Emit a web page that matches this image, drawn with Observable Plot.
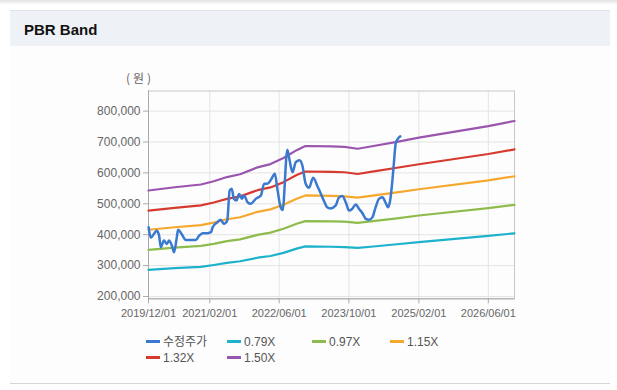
<!DOCTYPE html>
<html><head><meta charset="utf-8">
<script src="https://cdn.jsdelivr.net/npm/d3@7"></script>
<script src="https://cdn.jsdelivr.net/npm/@observablehq/plot@0.6"></script>
<style>
body{margin:0;width:617px;height:390px;background:#fff;position:relative;overflow:hidden;font-family:"Liberation Sans",Arial,"Noto Sans CJK KR",sans-serif;}
#shadow{position:absolute;left:0;top:0;width:617px;height:5px;background:linear-gradient(#e2e2e2,#ffffff);}
#panel{position:absolute;left:10px;top:10px;width:600px;height:373px;background:#fdfdfd;border-bottom:1px solid #d6d6d6;}
#header{position:absolute;left:10px;top:10px;width:600px;height:35px;background:#eef1f6;border-top:1px solid #dde2ea;}
#title{position:absolute;left:24px;top:21px;font-weight:bold;font-size:15px;color:#111;}
#unit{position:absolute;left:126px;top:69px;font-size:12px;color:#666;letter-spacing:3px;font-family:"Noto Sans CJK KR","Liberation Sans",sans-serif;}
#chart{position:absolute;left:0;top:60px;}
.leg{position:absolute;font-size:12px;color:#555;line-height:14px;white-space:nowrap;font-family:"Liberation Sans","Noto Sans CJK KR",sans-serif;}
.leg i{display:inline-block;width:14px;height:3px;margin-right:3px;vertical-align:middle;position:relative;top:-1px;}
</style></head><body>
<div id="shadow"></div>
<div id="panel"></div>
<div id="header"></div>
<div id="title">PBR Band</div>
<div id="unit">(원)</div>
<div id="chart"></div>
<div id="legend"></div>
<script>
// ---- data ----
const seriesNames = ["수정주가", "0.79X", "0.97X", "1.15X", "1.32X", "1.50X"];
const seriesColors = ["#3a79d0", "#1db2cc", "#8dbb4c", "#f6a82e", "#d63a2e", "#9a55ae"];

const priceDates = ["2019-12-02","2019-12-17","2020-01-09","2020-01-28","2020-02-13","2020-02-25","2020-03-18","2020-04-07","2020-04-23","2020-05-16","2020-05-27","2020-06-16","2020-06-25","2020-07-18","2020-08-18","2020-10-27","2020-11-19","2020-12-13","2021-01-17","2021-02-10","2021-02-21","2021-03-26","2021-04-18","2021-05-11","2021-06-03","2021-06-20","2021-07-04","2021-07-20","2021-08-07","2021-08-25","2021-09-13","2021-09-29","2021-10-23","2021-11-15","2021-12-19","2022-01-24","2022-02-16","2022-03-10","2022-04-02","2022-05-02","2022-05-19","2022-06-11","2022-06-25","2022-07-28","2022-08-13","2022-09-02","2022-09-25","2022-10-22","2022-11-10","2022-12-03","2022-12-26","2023-01-25","2023-02-24","2023-03-17","2023-04-09","2023-05-02","2023-05-25","2023-07-01","2023-07-23","2023-08-16","2023-09-09","2023-10-02","2023-10-25","2023-11-18","2023-12-10","2024-01-03","2024-01-27","2024-02-18","2024-03-13","2024-04-05","2024-04-28","2024-05-22","2024-06-14","2024-06-30","2024-07-15","2024-07-31","2024-08-11","2024-08-23","2024-09-08","2024-09-24"];
const priceValues = [424000,390000,403000,413000,397000,359000,381000,370000,381000,359000,343000,392000,416000,403000,383000,383000,397000,405000,405000,408000,424000,440000,448000,435000,445000,543000,549000,516000,511000,532000,516000,527000,505000,500000,516000,527000,565000,565000,576000,597000,549000,489000,480000,675000,640000,602000,635000,641000,624000,565000,552000,584000,556000,535000,510000,489000,485000,495000,520000,525000,505000,478000,484000,498000,484000,470000,451000,448000,456000,489000,516000,521000,503000,489000,510000,576000,635000,695000,711000,718000];

const bandDates = ["2019-12-01","2020-06-01","2020-12-01","2021-03-01","2021-06-01","2021-09-01","2022-01-01","2022-04-01","2022-07-01","2022-10-01","2022-12-01","2023-06-01","2023-09-01","2023-12-01","2024-03-01","2024-09-01","2025-02-01","2026-06-01","2026-12-01"];
const band079 = [286000,291500,296000,302000,309000,314000,325500,331000,341000,355000,362000,361000,360000,357000,361000,369000,376000,396000,404500];
const band097 = [351000,358000,364000,370500,379000,385000,399500,406500,419000,435500,444000,443000,442000,438500,443000,453000,462000,486000,496500];
const band115 = [416000,424000,431000,439000,450000,456500,474000,482000,497000,516000,527000,525500,524000,520000,525500,537000,547000,576000,589000];
const band132 = [478000,487000,495000,504000,516000,524000,544000,553000,570000,593000,604500,603000,602000,596500,603000,616500,628000,661000,676000];
const band150 = [543000,553500,562500,573000,586500,595500,618000,628500,648000,673500,687000,685500,684000,678000,685500,700500,714000,751500,768000];

const xTickLabels = ["2019-12-01","2021-02-01","2022-06-01","2023-10-01","2025-02-01","2026-06-01"];
const yTicks = [200000,300000,400000,500000,600000,700000,800000];
const xDomain = ["2019-12-01","2026-12-01"];
const yDomain = [192500, 865000];

// ---- build ----
const pd = s => new Date(s + "T00:00:00Z");
const priceData = priceDates.map((d,i) => ({date: pd(d), value: priceValues[i]}));
const bands = [band079, band097, band115, band132, band150];
const bandData = bands.map(arr => bandDates.map((d,i) => ({date: pd(d), value: arr[i]})));
const xTicks = xTickLabels.map(pd);
const font = '"Liberation Sans", Arial, sans-serif';

const marks = [
  Plot.gridX(xTicks, {stroke: "#e4e4e4", strokeOpacity: 1}),
  Plot.gridY(yTicks, {stroke: "#e4e4e4", strokeOpacity: 1}),
  Plot.frame({stroke: "#c8c8c8"}),
  Plot.ruleX([pd(xDomain[0])], {stroke: "#a8a8a8"}),
  Plot.ruleY([yDomain[0]], {stroke: "#a8a8a8"}),
  Plot.axisX(xTicks, {tickFormat: d3.utcFormat("%Y/%m/%d"), tickSize: 5, tickPadding: 5, fontSize: 11, stroke: "#aaa", fill: "#666", label: null}),
  Plot.axisY(yTicks, {tickFormat: d3.format(","), tickSize: 5, tickPadding: 3, fontSize: 12, stroke: "#aaa", fill: "#666", label: null})
];
bandData.forEach((data, i) => {
  marks.push(Plot.line(data, {x: "date", y: "value", stroke: seriesColors[i+1], strokeWidth: 2.2}));
});
marks.push(Plot.line(priceData, {x: "date", y: "value", stroke: seriesColors[0], strokeWidth: 2.5, curve: "monotone-x"}));

const chart = Plot.plot({
  width: 617, height: 260,
  marginLeft: 148, marginRight: 103, marginTop: 30.5, marginBottom: 21.7,
  style: {background: "transparent", fontFamily: font, color: "#666", overflow: "visible"},
  x: {type: "utc", domain: xDomain.map(pd)},
  y: {domain: yDomain},
  marks
});
document.getElementById("chart").appendChild(chart);

// legend
const legPos = [[146,335],[227,335],[312,335],[390,335],[146,351],[227,351]];
const leg = document.getElementById("legend");
seriesNames.forEach((n,i) => {
  const d = document.createElement("div");
  d.className = "leg";
  d.style.left = legPos[i][0] + "px";
  d.style.top = legPos[i][1] + "px";
  d.innerHTML = `<i style="background:${seriesColors[i]}"></i>${n}`;
  leg.appendChild(d);
});
</script>
</body></html>
